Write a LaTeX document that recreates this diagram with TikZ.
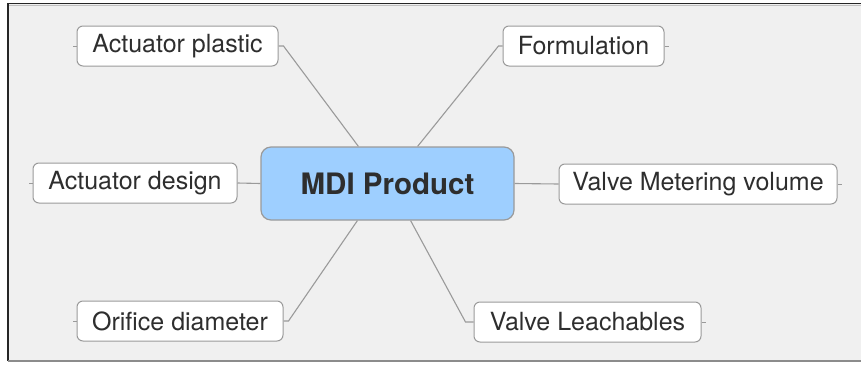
\documentclass[tikz,border=0pt]{standalone}
\usepackage{fontspec}
\setmainfont{TeX Gyre Heros}
\definecolor{paper}{HTML}{F0F0F0}
\definecolor{edge}{HTML}{9A9A9A}
\definecolor{ink}{HTML}{2E2E2E}
\definecolor{hub}{HTML}{9ECFFF}
\begin{document}
\begin{tikzpicture}[x=1pt,y=-1pt,
  topic/.style={draw=edge, line width=1pt, rounded corners=6pt, fill=white,
    text=ink, font=\fontsize{25}{28}\selectfont, minimum height=40pt,
    inner sep=0pt, anchor=center},
  hubbox/.style={draw=edge, line width=1.2pt, rounded corners=10pt, fill=hub,
    text=ink, font=\fontsize{29.5}{33}\selectfont\bfseries,
    minimum width=253pt, minimum height=73pt, inner sep=0pt},
  link/.style={draw=edge, line width=1.1pt},
  stub/.style={draw=edge, line width=1pt}]
\useasboundingbox (0,0) rectangle (861,364);
% canvas and frame
\fill[paper] (8,4) rectangle (861,361);
\draw[black!85, line width=1.5pt] (8,361) -- (8,3.5) -- (861,3.5);
\draw[black!25, line width=1.5pt] (9,5.5) -- (861,5.5);
\draw[black!45, line width=1.5pt] (8,361) -- (861,361);

% central topic
\node[hubbox] (c) at (387.5,183.5) {MDI Product};

% branch topics
\node[topic, minimum width=201pt] (p) at (177.5,46) {Actuator plastic};
\node[topic, minimum width=161pt] (f) at (583.5,46) {Formulation};
\node[topic, minimum width=204pt] (d) at (135,183) {Actuator design};
\node[topic, minimum width=278pt] (m) at (698,184) {Valve Metering volume};
\node[topic, minimum width=206pt] (o) at (180,321) {Orifice diameter};
\node[topic, minimum width=227pt] (l) at (587.5,322) {Valve Leachables};

% connectors from the central topic
\draw[link] ([xshift=98pt]c.north west) -- ([xshift=5pt]p.east) -- (p.east);
\draw[link] ([xshift=-97pt]c.north east) -- ([xshift=-4pt]f.west) -- (f.west);
\draw[link] (c.west) -- (d.east);
\draw[link] (c.east) -- (m.west);
\draw[link] ([xshift=97pt]c.south west) -- ([xshift=5pt]o.east) -- (o.east);
\draw[link] ([xshift=-104pt]c.south east) -- ([xshift=-8pt]l.west) -- (l.west);

% small outer stubs
\draw[stub] (p.west) -- ++(-4,0);
\draw[stub] (f.east) -- ++(4,0);
\draw[stub] (d.west) -- ++(-4,0);
\draw[stub] (m.east) -- ++(4,0);
\draw[stub] (o.west) -- ++(-4,0);
\draw[stub] (l.east) -- ++(4,0);
\end{tikzpicture}
\end{document}
